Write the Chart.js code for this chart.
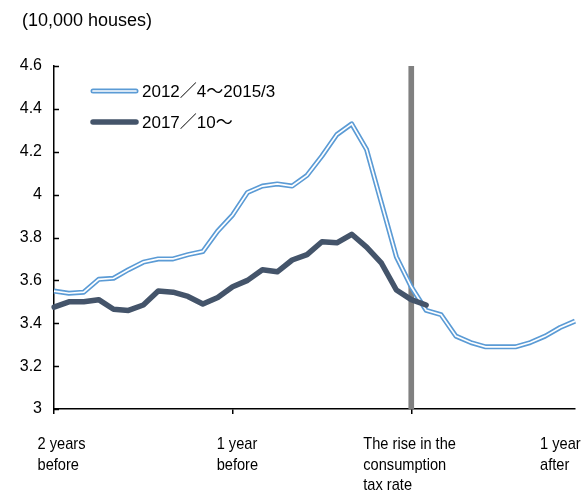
<!DOCTYPE html>
<html>
<head>
<meta charset="utf-8">
<script src="https://cdn.jsdelivr.net/npm/chart.js@4"></script>
<style>
  html, body { margin: 0; padding: 0; background: #fff; }
</style>
</head>
<body>
<canvas id="chart" width="586" height="493"></canvas>
<script>
// months relative to the consumption tax rise (0 = the rise)
const months = [-24, -23, -22, -21, -20, -19, -18, -17, -16, -15, -14, -13,
                -12, -11, -10, -9, -8, -7, -6, -5, -4, -3, -2, -1,
                0, 1, 2, 3, 4, 5, 6, 7, 8, 9, 10, 11];

// 2012/4～2015/3 (10,000 houses)
const starts2014 = [3.55, 3.54, 3.545, 3.605, 3.61, 3.65, 3.685, 3.70, 3.70, 3.72, 3.735, 3.83,
                    3.905, 4.01, 4.04, 4.05, 4.04, 4.09, 4.18, 4.28, 4.33, 4.21, 3.96, 3.71,
                    3.57, 3.46, 3.44, 3.34, 3.31, 3.29, 3.29, 3.29, 3.31, 3.34, 3.38, 3.41];

// 2017/10～ (10,000 houses)
const starts2019 = [3.475, 3.50, 3.50, 3.51, 3.465, 3.46, 3.485, 3.55, 3.545, 3.525, 3.49, 3.52,
                    3.57, 3.60, 3.65, 3.64, 3.695, 3.72, 3.78, 3.775, 3.815, 3.755, 3.68, 3.555,
                    3.51, 3.485];

const seriesNames = ['2012／4～2015/3', '2017／10～'];

// x axis labels (months where a label is shown)
const labelMonths = [-24, -12, 0, 11];
const labelTexts = [['2 years', 'before'], ['1 year', 'before'], ['The rise in the', 'consumption', 'tax rate'], ['1 year', 'after']];
const tickMonths = [-24, -12, 0];
const taxRiseMonth = 0;

const yMin = 3, yMax = 4.6, yStep = 0.2;

const lightBlue = '#5B9BD5';
const darkBlue = '#44546A';
const FONT = '"Liberation Sans", Arial, sans-serif';

// titles, legend, inner y ticks and x labels
const decorPlugin = {
    id: 'decor',
    afterDraw(chart) {
        const ctx = chart.ctx;
        const x = chart.scales.x;
        const y = chart.scales.y;
        ctx.save();
        ctx.fillStyle = '#000';

        // unit title
        ctx.font = '18px ' + FONT;
        ctx.textAlign = 'left';
        ctx.textBaseline = 'alphabetic';
        ctx.fillText('(10,000 houses)', 22, 26);

        // y ticks pointing inside
        ctx.strokeStyle = '#000';
        ctx.lineWidth = 1.5;
        y.ticks.forEach(t => {
            const py = Math.round(y.getPixelForValue(t.value)) + 0.5;
            ctx.beginPath();
            ctx.moveTo(chart.chartArea.left, py);
            ctx.lineTo(chart.chartArea.left + 5, py);
            ctx.stroke();
        });

        // legend
        ctx.lineCap = 'round';
        ctx.strokeStyle = lightBlue;
        ctx.lineWidth = 5;
        ctx.beginPath(); ctx.moveTo(93, 91); ctx.lineTo(136, 91); ctx.stroke();
        ctx.strokeStyle = '#fff';
        ctx.lineWidth = 1.7;
        ctx.beginPath(); ctx.moveTo(93, 91); ctx.lineTo(136, 91); ctx.stroke();
        ctx.strokeStyle = darkBlue;
        ctx.lineWidth = 5.5;
        ctx.beginPath(); ctx.moveTo(93, 122); ctx.lineTo(136, 122); ctx.stroke();
        ctx.font = '17px ' + FONT + ', "Noto Sans CJK JP"';
        ctx.fillText(seriesNames[0], 142, 97);
        ctx.fillText(seriesNames[1], 142, 128);

        // x labels (narrow lettering)
        const shifts = [-16.5, -16, -48, -35];
        ctx.font = '17px ' + FONT;
        labelMonths.forEach((m, i) => {
            const px = x.getPixelForValue(months.indexOf(m)) + shifts[i];
            labelTexts[i].forEach((line, j) => {
                ctx.save();
                ctx.translate(px, 449 + j * 20.5);
                ctx.scale(0.86, 1);
                ctx.fillText(line, 0, 0);
                ctx.restore();
            });
        });
        ctx.restore();
    }
};

new Chart(document.getElementById('chart'), {
    type: 'line',
    data: {
        labels: months,
        datasets: [
            {
                label: seriesNames[1],
                data: starts2019,
                borderColor: darkBlue,
                borderWidth: 5.5,
                borderCapStyle: 'round',
                borderJoinStyle: 'round',
                pointRadius: 0,
                order: 0
            },
            {
                label: seriesNames[0] + ' inner',
                data: starts2014,
                borderColor: '#fff',
                borderWidth: 1.7,
                pointRadius: 0,
                order: 1
            },
            {
                label: seriesNames[0],
                data: starts2014,
                borderColor: lightBlue,
                borderWidth: 5,
                borderJoinStyle: 'round',
                pointRadius: 0,
                order: 2
            },
            {
                type: 'bar',
                label: 'tax rise',
                data: months.map(m => m === taxRiseMonth ? yMax : null),
                backgroundColor: '#808080',
                barThickness: 5,
                order: 3
            }
        ]
    },
    options: {
        responsive: false,
        animation: false,
        layout: { padding: { left: 0, right: 11, top: 66, bottom: 79 } },
        plugins: {
            legend: { display: false },
            tooltip: { enabled: false }
        },
        scales: {
            x: {
                type: 'category',
                offset: false,
                grid: {
                    offset: false,
                    drawOnChartArea: false,
                    tickLength: 5,
                    lineWidth: 1.5,
                    color: c => tickMonths.includes(months[c.index]) ? '#000' : 'rgba(0,0,0,0)'
                },
                border: { color: '#000', width: 1.5 },
                ticks: { display: false, autoSkip: false }
            },
            y: {
                min: yMin,
                max: yMax,
                afterFit(scale) { scale.width = 54; },
                grid: { drawOnChartArea: false, drawTicks: false },
                border: { color: '#000', width: 1.5 },
                ticks: {
                    stepSize: yStep,
                    padding: 12,
                    color: '#000',
                    font: { family: FONT, size: 16 },
                    callback: v => String(Number(v.toFixed(1)))
                }
            }
        }
    },
    plugins: [decorPlugin]
});
</script>
</body>
</html>
